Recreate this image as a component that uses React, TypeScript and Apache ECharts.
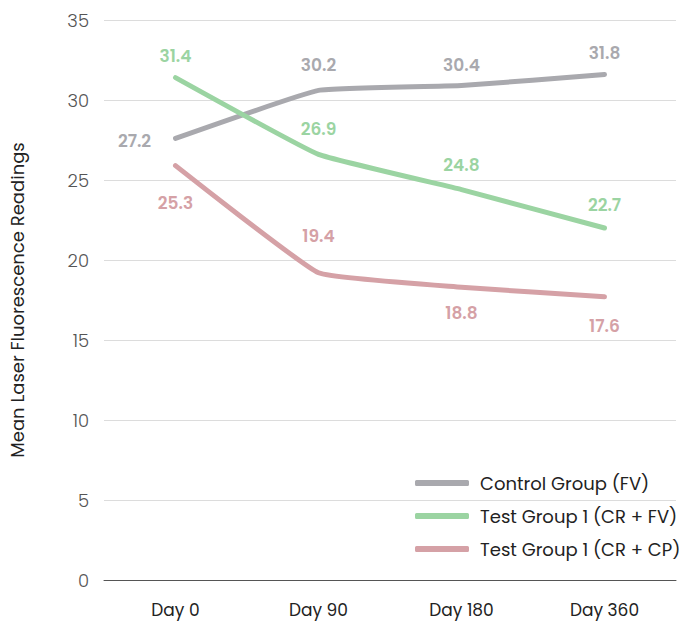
import React, { useEffect, useRef } from "react";
import * as echarts from "echarts";

const categories = ["Day 0", "Day 90", "Day 180", "Day 360"];
const seriesNames = ["Control Group (FV)", "Test Group 1 (CR + FV)", "Test Group 1 (CR + CP)"];
// plotted values (as drawn)
const controlValues = [27.6, 30.6, 30.9, 31.6];
const testFvValues = [31.4, 26.6, 24.4, 22.0];
const testCpValues = [25.9, 19.2, 18.3, 17.7];
// printed label texts
const controlLabels = ["27.2", "30.2", "30.4", "31.8"];
const testFvLabels = ["31.4", "26.9", "24.8", "22.7"];
const testCpLabels = ["25.3", "19.4", "18.8", "17.6"];
const yTicks = [0, 5, 10, 15, 20, 25, 30, 35];

// label placement (style)
const controlOffsets = [[-41, 3], [0, -25], [0, -21], [0, -21]];
const testFvOffsets = [[0, -22], [0, -25], [0, -25], [0, -23]];
const testCpOffsets = [[0, 37], [0, -37], [0, 26], [0, 29]];
const colors = ["#a9a9ae", "#9bd4a2", "#d5a1a6"];

const FONT = "Poppins, Inter, 'Noto Sans', sans-serif";

function buildData(values: number[], labels: string[], offsets: number[][], color: string) {
  return values.map((v, i) => ({
    value: v,
    label: {
      show: true,
      position: "inside",
      offset: offsets[i],
      formatter: labels[i],
      color,
      fontSize: 17,
      fontWeight: 600,
      fontFamily: FONT,
    },
  }));
}

export default function App() {
  const ref = useRef<HTMLDivElement>(null);
  useEffect(() => {
    document.body.style.margin = "0";
    const chart = echarts.init(ref.current!, undefined, { renderer: "svg" });
    const all = [
      [controlValues, controlLabels, controlOffsets],
      [testFvValues, testFvLabels, testFvOffsets],
      [testCpValues, testCpLabels, testCpOffsets],
    ] as any[];
    chart.setOption({
      animation: false,
      grid: { left: 101, right: 3, top: 20, bottom: 42 },
      legend: {
        orient: "vertical",
        left: 410,
        top: 469,
        padding: 5,
        itemWidth: 54,
        itemHeight: 6,
        itemGap: 15,
        icon: "roundRect",
        data: seriesNames,
        textStyle: { fontSize: 18, color: "#222", fontFamily: FONT, padding: [0, 0, 0, 6] },
      },
      xAxis: {
        type: "category",
        data: categories,
        boundaryGap: true,
        axisLine: { lineStyle: { color: "#555", width: 1 } },
        axisTick: { show: false },
        axisLabel: { fontSize: 17, color: "#222", margin: 21, fontFamily: FONT },
      },
      yAxis: {
        type: "value",
        min: yTicks[0],
        max: yTicks[yTicks.length - 1],
        interval: 5,
        name: "Mean Laser Fluorescence Readings",
        nameLocation: "middle",
        nameGap: 78,
        nameTextStyle: { fontSize: 18, color: "#222", fontFamily: FONT },
        axisLine: { show: false },
        axisTick: { show: false },
        axisLabel: { fontSize: 18, color: "#555", margin: 15, fontFamily: FONT, fontWeight: 300 },
        splitLine: { lineStyle: { color: "#dcdcdc", width: 1 } },
      },
      series: all.map((s, i) => ({
        name: seriesNames[i],
        type: "line",
        data: buildData(s[0], s[1], s[2], colors[i]),
        smooth: 0.1,
        symbol: "circle",
        symbolSize: 1,
        lineStyle: { color: colors[i], width: 5, cap: "round", join: "round" },
        itemStyle: { color: colors[i] },
      })),
    });
    return () => chart.dispose();
  }, []);
  return <div ref={ref} style={{ width: 679, height: 622 }} />;
}
